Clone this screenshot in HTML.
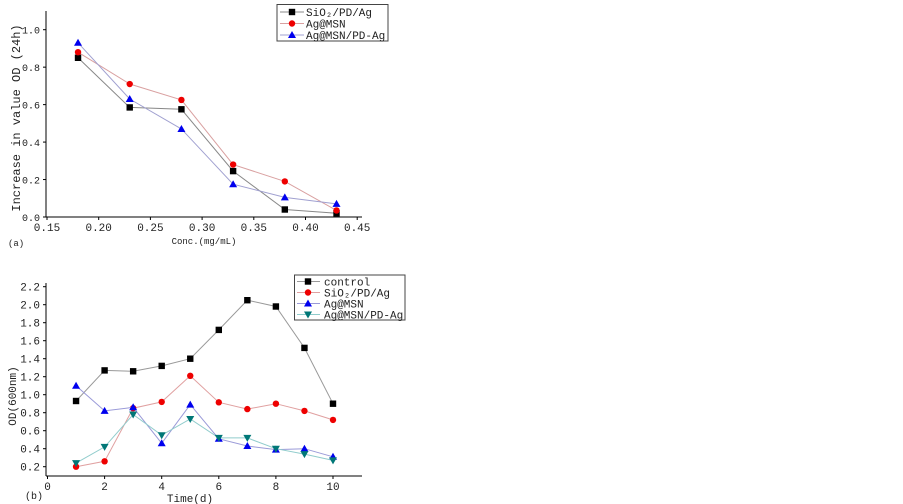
<!DOCTYPE html>
<html><head><meta charset="utf-8"><style>
html,body{margin:0;padding:0;background:#fff;width:903px;height:504px;overflow:hidden}
text{font-family:"Liberation Mono","Noto Serif CJK SC",monospace;fill:#222}
</style></head><body>
<svg id="s" width="903" height="504" xmlns="http://www.w3.org/2000/svg"></svg>
<script>
const S=document.getElementById('s');let h='';
function mk(t,typ,x,y,c){const r=3.2;
 if(typ=='sq')return `<rect x="${x-r}" y="${y-r}" width="${2*r}" height="${2*r}" fill="${c}"/>`;
 if(typ=='ci')return `<circle cx="${x}" cy="${y}" r="${r}" fill="${c}"/>`;
 if(typ=='up')return `<polygon points="${x},${y-4} ${x-4},${y+3} ${x+4},${y+3}" fill="${c}"/>`;
 return `<polygon points="${x},${y+4} ${x-4},${y-3} ${x+4},${y-3}" fill="${c}"/>`;}
const ax=v=>47+(v-0.15)/0.05*51.7, ay=v=>217-v*187.3;
h+=`<line x1="46" y1="11" x2="46" y2="217" stroke="#000"/><line x1="46" y1="217" x2="362" y2="217" stroke="#000"/>`;
for(let i=0;i<=5;i++){const y=ay(i*0.2);h+=`<line x1="43" y1="${y}" x2="46" y2="${y}" stroke="#000"/><text x="40" y="${y+4}" font-size="10" text-anchor="end">${(i*0.2).toFixed(1)}</text>`;}
for(let i=0;i<=6;i++){const v=0.15+i*0.05,x=ax(v);h+=`<line x1="${x}" y1="217" x2="${x}" y2="220" stroke="#000"/><text x="${x}" y="231" font-size="11" text-anchor="middle">${v.toFixed(2)}</text>`;}
h+=`<text x="204" y="244" font-size="9" text-anchor="middle">Conc.(mg/mL)</text><text x="8" y="246" font-size="9">(a)</text>`;
h+=`<text transform="translate(20,118) rotate(-90)" font-size="12" text-anchor="middle">Increase in value OD (24h)</text>`;
const xa=[.18,.23,.28,.33,.38,.43];
const sa=[[[.85,.585,.575,.245,.04,.02],'#888','#000','sq'],[[.88,.71,.625,.28,.19,.035],'#d9a0a0','#e00','ci'],[[.93,.63,.47,.175,.105,.07],'#a0a0d0','#00e','up']];
sa.forEach(([d,lc,mc,t])=>{h+=`<polyline fill="none" stroke="${lc}" stroke-width="1" points="${d.map((v,i)=>ax(xa[i])+','+ay(v)).join(' ')}"/>`;d.forEach((v,i)=>h+=mk(0,t,ax(xa[i]),ay(v),mc));});
h+=`<rect x="277" y="4.5" width="111" height="36.5" fill="#fff" stroke="#444"/>`;
const la=['SiO₂/PD/Ag','Ag@MSN','Ag@MSN/PD-Ag'];
sa.forEach(([d,lc,mc,t],i)=>{const y=12+i*11.5;h+=`<line x1="280" y1="${y}" x2="304" y2="${y}" stroke="${lc}"/>`+mk(0,t,292,y,mc)+`<text x="306" y="${y+4}" font-size="11">${la[i]}</text>`;});
const bx=v=>47.5+v*28.55, by=v=>466.7-(v-0.2)/0.2*18;
h+=`<line x1="46" y1="283" x2="46" y2="476" stroke="#000"/><line x1="46" y1="476" x2="362" y2="476" stroke="#000"/>`;
for(let i=0;i<=10;i++){const v=0.2+i*0.2,y=by(v);h+=`<line x1="43" y1="${y}" x2="46" y2="${y}" stroke="#000"/><text x="40" y="${y+4}" font-size="11" text-anchor="end">${v.toFixed(1)}</text>`;}
for(let i=0;i<=10;i+=2){const x=bx(i);h+=`<line x1="${x}" y1="476" x2="${x}" y2="479" stroke="#000"/><text x="${x}" y="490" font-size="11" text-anchor="middle">${i}</text>`;}
h+=`<text x="190" y="502" font-size="11" text-anchor="middle">Time(d)</text><text x="25" y="499" font-size="10">(b)</text>`;
h+=`<text transform="translate(16,396) rotate(-90)" font-size="11" text-anchor="middle">OD(600nm)</text>`;
const sb=[[[.93,1.27,1.26,1.32,1.40,1.72,2.05,1.98,1.52,.90],'#999','#000','sq'],[[.20,.26,.85,.92,1.21,.915,.84,.90,.82,.72],'#e0a0a0','#e00','ci'],[[1.10,.82,.86,.46,.89,.51,.43,.39,.40,.31],'#9a9ad8','#00e','up'],[[.24,.42,.78,.55,.73,.52,.52,.40,.34,.27],'#90cccc','#077','dn']];
sb.forEach(([d,lc,mc,t])=>{h+=`<polyline fill="none" stroke="${lc}" stroke-width="1" points="${d.map((v,i)=>bx(i+1)+','+by(v)).join(' ')}"/>`;d.forEach((v,i)=>h+=mk(0,t,bx(i+1),by(v),mc));});
h+=`<rect x="294.5" y="275" width="110.5" height="45" fill="#fff" stroke="#444"/>`;
const lb=['control','SiO₂/PD/Ag','Ag@MSN','Ag@MSN/PD-Ag'];
sb.forEach(([d,lc,mc,t],i)=>{const y=281.5+i*11;h+=`<line x1="297" y1="${y}" x2="320" y2="${y}" stroke="${lc}"/>`+mk(0,t,308,y,mc)+`<text x="324" y="${y+4}" font-size="11">${lb[i]}</text>`;});
S.innerHTML=h;
</script>
</body></html>
